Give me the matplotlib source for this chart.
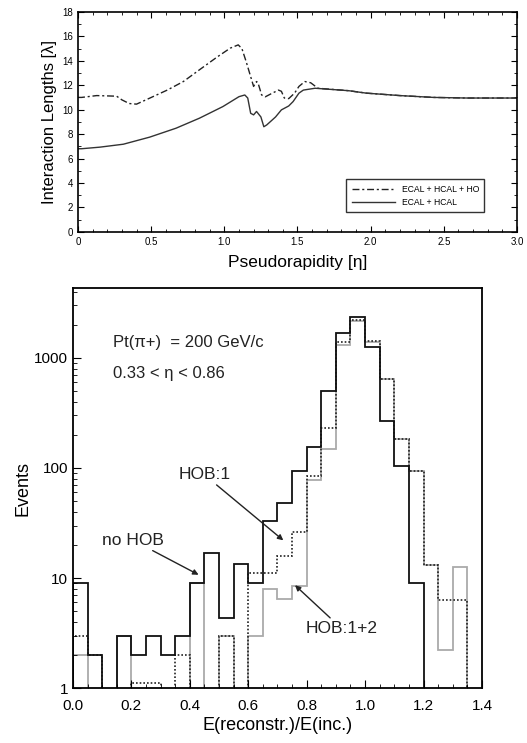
import numpy as np
import matplotlib
matplotlib.use("Agg")
import matplotlib.pyplot as plt
from matplotlib.ticker import MultipleLocator, LogLocator, NullFormatter

plt.rcParams['font.family'] = ['Liberation Sans', 'DejaVu Sans']

# ---- top panel: interaction lengths vs pseudorapidity ----
eta_ho = [0.0, 0.025, 0.128, 0.264, 0.30, 0.35, 0.40, 0.49, 0.61, 0.72, 0.83, 0.95, 1.04, 1.095,
          1.12, 1.15, 1.18, 1.20, 1.22, 1.23, 1.255, 1.28, 1.32, 1.37, 1.39, 1.41, 1.44, 1.48,
          1.51, 1.55, 1.59, 1.64, 1.85, 1.97, 2.2, 2.43, 2.66, 3.0]
lam_ho = [11.0, 11.0, 11.15, 11.1, 10.8, 10.5, 10.45, 10.94, 11.6, 12.3, 13.26, 14.3, 15.03, 15.3,
          15.0, 13.9, 12.7, 11.9, 12.3, 12.2, 11.2, 11.05, 11.3, 11.6, 11.5, 10.95, 10.9, 11.35,
          11.9, 12.3, 12.2, 11.75, 11.55, 11.35, 11.15, 11.0, 10.95, 10.95]

eta_cal = [0.0, 0.025, 0.15, 0.31, 0.49, 0.67, 0.83, 0.99, 1.10, 1.14, 1.16, 1.18, 1.20, 1.22,
           1.25, 1.27, 1.29, 1.35, 1.39, 1.44, 1.47, 1.51, 1.54, 1.62, 1.85, 1.97, 2.2, 2.43,
           2.66, 3.0]
lam_cal = [6.8, 6.8, 6.93, 7.17, 7.75, 8.48, 9.3, 10.25, 11.06, 11.2, 10.95, 9.7, 9.57, 9.85,
           9.4, 8.6, 8.75, 9.4, 9.98, 10.3, 10.66, 11.35, 11.6, 11.75, 11.55, 11.35, 11.15, 11.0,
           10.95, 10.95]

# ---- bottom panel: histograms, bins of 0.05 from 0 to 1.4 ----
edges = np.arange(0, 1.4001, 0.05)
no_hob = [9, 2, 0, 3, 2, 3, 2, 3, 9, 17, 4.3, 13.5, 9, 33, 48, 93, 155, 500, 1700, 2350,
          1260, 270, 105, 9, 0, 0, 0, 0]
hob_1 = [3, 2, 0, 0, 1.1, 1.1, 0, 2, 0, 0, 3, 0, 11, 11, 16, 26, 85, 230, 1400, 2200,
         1440, 650, 183, 94, 13, 6.3, 6.3, 0]
hob_12 = [2, 0, 0, 3, 0, 0, 0, 0, 9, 0, 3, 0, 3, 8, 6.5, 8.5, 78, 150, 1300, 2150,
          1400, 640, 185, 94, 13, 2.2, 12.5, 0]

fig = plt.figure(figsize=(5.27, 7.43), dpi=100)

ax1 = fig.add_axes([0.148, 0.688, 0.833, 0.296])
ax1.plot(eta_ho, lam_ho, color='#222222', lw=1.0, ls=(0, (5, 2, 1.5, 2)), label='ECAL + HCAL + HO')
ax1.plot(eta_cal, lam_cal, color='#333333', lw=1.0, label='ECAL + HCAL')
ax1.set_xlim(0, 3.0)
ax1.set_ylim(0, 18)
ax1.set_xticks([0, 0.5, 1.0, 1.5, 2.0, 2.5, 3.0])
ax1.set_xticklabels(['0', '0.5', '1.0', '1.5', '2.0', '2.5', '3.0'])
ax1.set_yticks(range(0, 19, 2))
ax1.xaxis.set_minor_locator(MultipleLocator(0.1))
ax1.yaxis.set_minor_locator(MultipleLocator(1))
ax1.tick_params(which='both', direction='in', top=True, right=True, labelsize=7)
ax1.tick_params(which='major', length=4)
ax1.tick_params(which='minor', length=2)
ax1.set_xlabel('Pseudorapidity [η]', fontsize=12.5, labelpad=6)
ax1.set_ylabel('Interaction Lengths [λ]', fontsize=12, labelpad=4)
leg = ax1.legend(loc='lower right', bbox_to_anchor=(0.935, 0.07), fontsize=6.2,
                 frameon=True, fancybox=False, edgecolor='black', handlelength=5,
                 borderpad=0.6, labelspacing=0.5)
leg.get_frame().set_linewidth(1.0)
for sp in ax1.spines.values():
    sp.set_linewidth(1.2)

ax2 = fig.add_axes([0.1385, 0.074, 0.776, 0.538])
floor = 0.1
def fix(v):
    return np.where(np.array(v) > 0, v, floor)

ax2.stairs(fix(hob_12), edges, baseline=floor, color='#aaaaaa', lw=1.3)
ax2.stairs(fix(hob_1), edges, baseline=floor, color='#222222', lw=1.2, ls=(0, (1, 1.2)))
ax2.stairs(fix(no_hob), edges, baseline=floor, color='#111111', lw=1.3)
ax2.set_yscale('log')
ax2.set_xlim(0, 1.4)
ax2.set_ylim(1, 4300)
ax2.set_xticks(np.arange(0, 1.41, 0.2))
ax2.set_xticklabels(['0.0', '0.2', '0.4', '0.6', '0.8', '1.0', '1.2', '1.4'])
ax2.xaxis.set_minor_locator(MultipleLocator(0.05))
ax2.set_yticks([1, 10, 100, 1000])
ax2.set_yticklabels(['1', '10', '100', '1000'])
ax2.yaxis.set_minor_locator(LogLocator(base=10, subs=np.arange(2, 10)))
ax2.yaxis.set_minor_formatter(NullFormatter())
ax2.tick_params(which='both', direction='in', top=False, right=False, labelsize=11)
ax2.tick_params(axis='x', which='major', pad=8)
ax2.tick_params(which='major', length=6)
ax2.tick_params(which='minor', length=3)
ax2.set_xlabel('E(reconstr.)/E(inc.)', fontsize=13, labelpad=3)
ax2.set_ylabel('Events', fontsize=13, labelpad=2)
for sp in ax2.spines.values():
    sp.set_linewidth(1.3)

ax2.text(0.137, 1370, 'Pt(π+)  = 200 GeV/c', fontsize=12, va='center', color='#222222')
ax2.text(0.137, 730, '0.33 < η < 0.86', fontsize=12, va='center', color='#222222')

arrow = dict(arrowstyle='-|>', color='#222222', lw=1.0, mutation_scale=8, shrinkA=0, shrinkB=0)
ax2.annotate('no HOB', xy=(0.43, 10.7), xytext=(0.10, 22), fontsize=12.5,
             color='#222222', va='center', arrowprops=arrow)
ax2.annotate('HOB:1', xy=(0.72, 22), xytext=(0.36, 87), fontsize=12.5,
             color='#222222', va='center', arrowprops=arrow)
ax2.annotate('HOB:1+2', xy=(0.76, 8.6), xytext=(0.795, 3.5), fontsize=12.5,
             color='#222222', va='center', arrowprops=arrow)

fig.savefig('out.png', dpi=100)
